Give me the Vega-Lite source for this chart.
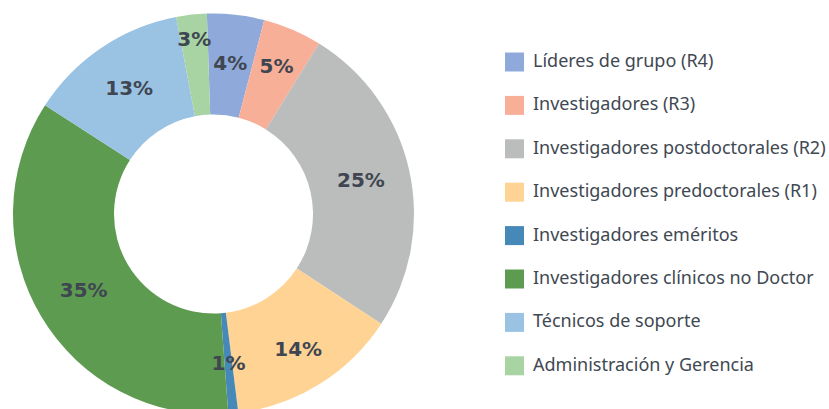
{
  "$schema": "https://vega.github.io/schema/vega-lite/v6.json",
  "width": 427,
  "height": 428,
  "padding": 0,
  "autosize": {"type": "pad"},
  "background": "white",
  "data": {
    "values": [
      {"cat": "Líderes de grupo (R4)", "value": 4.6, "label": "4%", "idx": 1},
      {"cat": "Investigadores (R3)", "value": 4.75, "label": "5%", "idx": 2},
      {"cat": "Investigadores postdoctorales (R2)", "value": 25.4, "label": "25%", "idx": 3},
      {"cat": "Investigadores predoctorales (R1)", "value": 13.8, "label": "14%", "idx": 4},
      {"cat": "Investigadores eméritos", "value": 0.8, "label": "1%", "idx": 5},
      {"cat": "Investigadores clínicos no Doctor", "value": 35.3, "label": "35%", "idx": 6},
      {"cat": "Técnicos de soporte", "value": 12.9, "label": "13%", "idx": 7},
      {"cat": "Administración y Gerencia", "value": 2.45, "label": "3%", "idx": 8}
    ]
  },
  "encoding": {
    "theta": {"field": "value", "type": "quantitative", "stack": true, "scale": {"range": [-0.0332, 6.25]}},
    "order": {"field": "idx", "type": "quantitative"}
  },
  "layer": [
    {
      "mark": {"type": "arc", "radius": 200.5, "radius2": 99.5, "stroke": null},
      "encoding": {
        "color": {
          "field": "cat",
          "type": "nominal",
          "scale": {
            "domain": ["Líderes de grupo (R4)", "Investigadores (R3)", "Investigadores postdoctorales (R2)", "Investigadores predoctorales (R1)", "Investigadores eméritos", "Investigadores clínicos no Doctor", "Técnicos de soporte", "Administración y Gerencia"],
            "range": ["#8FAADA", "#F8AF98", "#BBBDBC", "#FED393", "#4688B8", "#5D9B51", "#9AC3E3", "#A8D4A3"]
          },
          "legend": {
            "title": null,
            "orient": "none",
            "legendX": 505,
            "legendY": 52.5,
            "symbolType": "square",
            "symbolSize": 361,
            "symbolStrokeWidth": 0,
            "symbolOpacity": 1,
            "labelOffset": 9,
            "rowPadding": 24.4,
            "padding": 0,
            "labelFont": "Noto Sans",
            "labelFontSize": 18,
            "labelColor": "#404852",
            "labelLimit": 400
          }
        }
      }
    },
    {
      "mark": {"type": "text", "radius": 151, "font": "DejaVu Sans", "fontWeight": "bold", "fontSize": 20, "color": "#404651", "baseline": "middle", "align": "center"},
      "encoding": {
        "detail": {"field": "cat", "type": "nominal"},
        "text": {"condition": {"test": "datum.idx != 8 && datum.idx != 4 && datum.idx != 2", "field": "label"}, "value": ""}
      }
    },
    {
      "mark": {"type": "text", "radius": 160, "font": "DejaVu Sans", "fontWeight": "bold", "fontSize": 20, "color": "#404651", "baseline": "middle", "align": "center"},
      "encoding": {
        "detail": {"field": "cat", "type": "nominal"},
        "text": {"condition": {"test": "datum.idx == 4 || datum.idx == 2", "field": "label"}, "value": ""}
      }
    },
    {
      "mark": {"type": "text", "radius": 175, "font": "DejaVu Sans", "fontWeight": "bold", "fontSize": 20, "color": "#404651", "baseline": "middle", "align": "center"},
      "encoding": {
        "detail": {"field": "cat", "type": "nominal"},
        "text": {"condition": {"test": "datum.idx == 8", "field": "label"}, "value": ""}
      }
    }
  ],
  "config": {"view": {"stroke": null}}
}
